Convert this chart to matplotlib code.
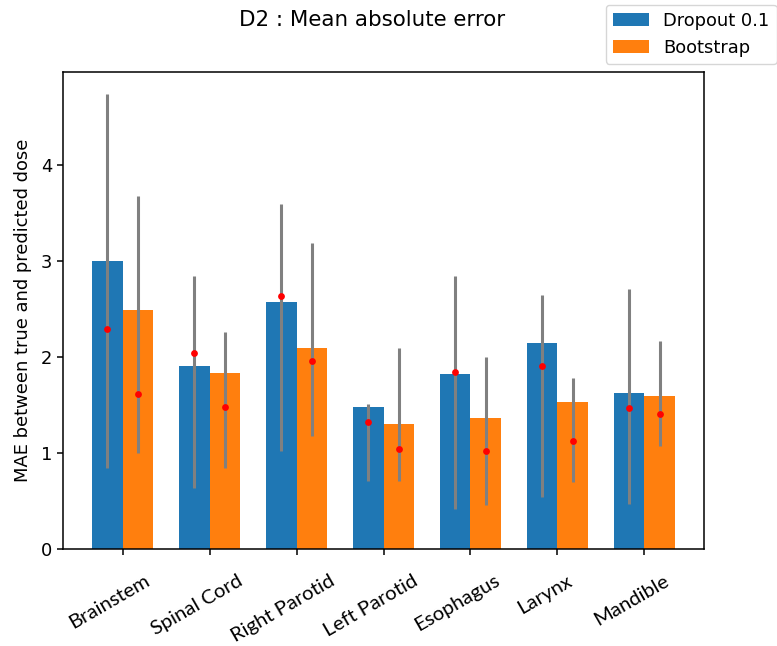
import numpy as np
import matplotlib
matplotlib.use("Agg")
import matplotlib.pyplot as plt
from matplotlib.transforms import ScaledTranslation

structures = ["Brainstem", "Spinal Cord", "Right Parotid", "Left Parotid",
              "Esophagus", "Larynx", "Mandible"]

# Dropout 0.1: mean MAE (bar), median (dot), min / max range
dropout_mean = [3.00, 1.90, 2.57, 1.48, 1.82, 2.14, 1.62]
dropout_median = [2.29, 2.04, 2.63, 1.32, 1.84, 1.91, 1.47]
dropout_min = [0.84, 0.63, 1.02, 0.71, 0.42, 0.54, 0.47]
dropout_max = [4.74, 2.84, 3.59, 1.51, 2.84, 2.64, 2.71]

# Bootstrap
boot_mean = [2.49, 1.83, 2.09, 1.30, 1.36, 1.53, 1.59]
boot_median = [1.61, 1.48, 1.96, 1.04, 1.02, 1.12, 1.41]
boot_min = [1.00, 0.84, 1.18, 0.71, 0.46, 0.70, 1.07]
boot_max = [3.67, 2.26, 3.18, 2.09, 2.00, 1.78, 2.17]

blue = "#1f77b4"
orange = "#ff7f0e"
fs = 12.9

fig = plt.figure(figsize=(7.77, 6.46), dpi=100)
ax = fig.add_axes([63 / 777, 1 - 549 / 646, (704 - 63) / 777, (549 - 72) / 646])

x = np.arange(len(structures))
w = 0.35
ax.bar(x - w / 2, dropout_mean, w, color=blue, label="Dropout 0.1", zorder=1)
ax.bar(x + w / 2, boot_mean, w, color=orange, label="Bootstrap", zorder=1)

ax.vlines(x - w / 2, dropout_min, dropout_max, color="gray", lw=2.2, zorder=2)
ax.vlines(x + w / 2, boot_min, boot_max, color="gray", lw=2.2, zorder=2)
ax.scatter(x - w / 2, dropout_median, s=24, color="red", zorder=3, lw=0)
ax.scatter(x + w / 2, boot_median, s=24, color="red", zorder=3, lw=0)

ax.set_xlim(-0.685, 6.685)
ax.set_ylim(0, 4.965)
ax.set_yticks([0, 1, 2, 3, 4])
ax.tick_params(axis="both", labelsize=fs, length=4.5, width=1.1)
for s in ax.spines.values():
    s.set_linewidth(1.1)
ax.set_xticks(x)
ax.set_xticklabels(structures, rotation=30, ha="center", fontsize=14.6,
                   family=["Lato", "DejaVu Sans"])
shift = ScaledTranslation(-13 / 100, -12 / 100, fig.dpi_scale_trans)
for lbl in ax.get_xticklabels():
    lbl.set_transform(lbl.get_transform() + shift)
ax.set_ylabel("MAE between true and predicted dose", fontsize=fs, labelpad=6)

fig.text(372 / 777, 1 - 20 / 646, "D2 : Mean absolute error", ha="center",
         va="center", fontsize=15.4)

handles, labels = ax.get_legend_handles_labels()
fig.legend(handles, labels, loc="upper right", bbox_to_anchor=(0.9995, 0.993),
           fontsize=fs, frameon=True, borderaxespad=0.0)

fig.savefig("out.png", dpi=100)
